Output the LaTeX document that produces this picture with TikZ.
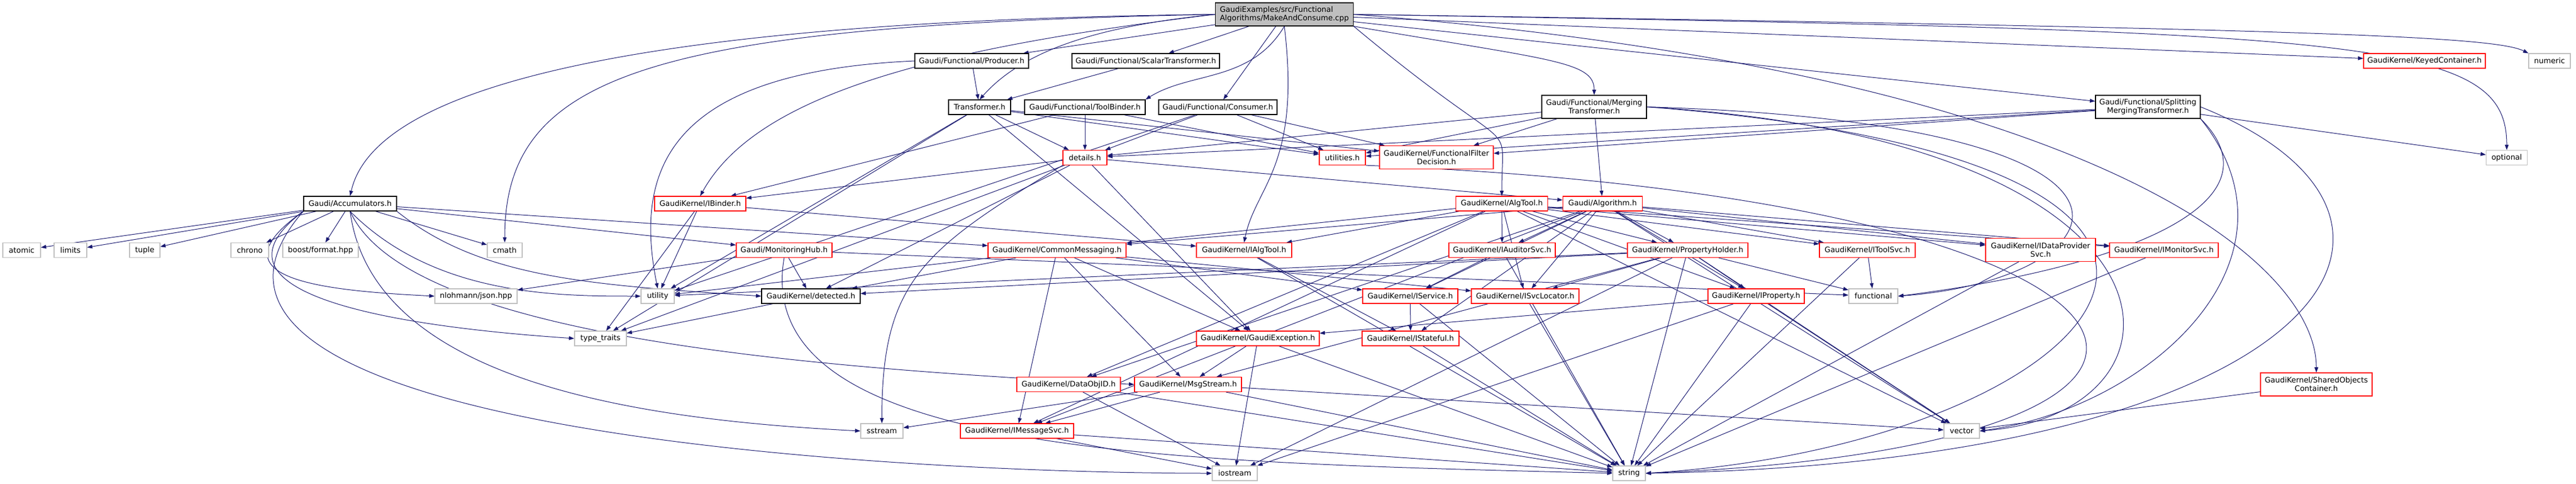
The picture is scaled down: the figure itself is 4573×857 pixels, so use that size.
\documentclass[tikz,border=0pt]{standalone}
\usepackage{fontspec}
\setmainfont{DejaVu Sans}
\usetikzlibrary{arrows.meta,backgrounds}
\definecolor{edgeblue}{HTML}{191970}
\definecolor{sysgray}{HTML}{BFBFBF}

\begin{document}
\begin{tikzpicture}[x=0.75pt,y=-0.75pt,
  every node/.style={font=\fontsize{10}{11.25}\selectfont,inner xsep=2pt,inner ysep=3pt,
    minimum height=19.5pt,fill=white,line width=0.9pt,align=center},
  wd/.style={minimum width=#1*0.75pt},
  tall/.style={minimum height=30.75pt},
  full/.style={draw=black},
  trunc/.style={draw=red},
  sys/.style={draw=sysgray},
  top/.style={draw=black,fill=sysgray,align=left},
  dep/.style={-{Triangle[length=7pt,width=5pt]},edgeblue,line width=0.75pt}]
  \useasboundingbox (0,0) rectangle (4573,857);

  % files
  \node[top,wd=245,tall] (root) at (2280,25.5) {GaudiExamples/src/Functional\\Algorithms/MakeAndConsume.cpp};

  \node[full,wd=202] (producer) at (1725,108) {Gaudi/Functional/Producer.h};
  \node[full,wd=262] (scalar) at (2034,108) {Gaudi/Functional/ScalarTransformer.h};
  \node[trunc,wd=216] (keyed) at (4304,108) {GaudiKernel/KeyedContainer.h};
  \node[sys,wd=74] (numeric) at (4526,108) {numeric};

  \node[full,wd=110] (transformer) at (1739,190) {Transformer.h};
  \node[full,wd=214] (toolbinder) at (1926,190) {Gaudi/Functional/ToolBinder.h};
  \node[full,wd=210] (consumer) at (2162,190) {Gaudi/Functional/Consumer.h};
  \node[full,wd=186,tall] (merging) at (2830,189.5) {Gaudi/Functional/Merging\\Transformer.h};
  \node[full,wd=186,tall] (splitting) at (3813,189.5) {Gaudi/Functional/Splitting\\MergingTransformer.h};

  \node[trunc,wd=78] (details) at (1926,279.5) {details.h};
  \node[trunc,wd=82] (utilities) at (2383,279.5) {utilities.h};
  \node[trunc,wd=202,tall] (ffd) at (2550,279) {GaudiKernel/FunctionalFilter\\Decision.h};
  \node[sys,wd=73] (optional) at (4450,279.5) {optional};

  \node[full,wd=165] (acc) at (621.5,361) {Gaudi/Accumulators.h};
  \node[trunc,wd=162] (ibinder) at (1243,361) {GaudiKernel/IBinder.h};
  \node[trunc,wd=163] (algtool) at (2666,361) {GaudiKernel/AlgTool.h};
  \node[trunc,wd=141] (algorithm) at (2845,361) {Gaudi/Algorithm.h};

  \node[sys,wd=67] (atomic) at (38.5,443.5) {atomic};
  \node[sys,wd=58] (limits) at (125,443.5) {limits};
  \node[sys,wd=54] (tuple) at (257,443.5) {tuple};
  \node[sys,wd=67] (chrono) at (443.5,443.5) {chrono};
  \node[sys,wd=134] (boostfmt) at (569,443.5) {boost/format.hpp};
  \node[sys,wd=62] (cmath) at (896,443.5) {cmath};
  \node[trunc,wd=170] (monhub) at (1392,443.5) {Gaudi/MonitoringHub.h};
  \node[trunc,wd=245] (commsg) at (1876.5,443.5) {GaudiKernel/CommonMessaging.h};
  \node[trunc,wd=169] (ialgtool) at (2208.5,443.5) {GaudiKernel/IAlgTool.h};
  \node[trunc,wd=189] (iauditor) at (2666.5,443.5) {GaudiKernel/IAuditorSvc.h};
  \node[trunc,wd=214] (propholder) at (2996,443.5) {GaudiKernel/PropertyHolder.h};
  \node[trunc,wd=170] (itoolsvc) at (3315,443.5) {GaudiKernel/IToolSvc.h};
  \node[trunc,wd=195,tall] (idataprov) at (3622.5,443) {GaudiKernel/IDataProvider\\Svc.h};
  \node[trunc,wd=193] (imonitor) at (3841.5,443.5) {GaudiKernel/IMonitorSvc.h};

  \node[sys,wd=146] (json) at (845,525) {nlohmann/json.hpp};
  \node[sys,wd=59] (utility) at (1167.5,525) {utility};
  \node[full,wd=175] (detected) at (1439.5,525) {GaudiKernel/detected.h};
  \node[trunc,wd=169] (iservice) at (2503.5,525) {GaudiKernel/IService.h};
  \node[trunc,wd=191] (isvcloc) at (2707.5,525) {GaudiKernel/ISvcLocator.h};
  \node[trunc,wd=171] (iproperty) at (3117.5,525) {GaudiKernel/IProperty.h};
  \node[sys,wd=87] (functional) at (3325.5,525) {functional};

  \node[sys,wd=92] (typetraits) at (1066,600) {type\_traits};
  \node[trunc,wd=218] (gexcept) at (2233,600) {GaudiKernel/GaudiException.h};
  \node[trunc,wd=172] (istateful) at (2504,600) {GaudiKernel/IStateful.h};

  \node[trunc,wd=184] (dataobjid) at (1897,681.5) {GaudiKernel/DataObjID.h};
  \node[trunc,wd=190] (msgstream) at (2109,681.5) {GaudiKernel/MsgStream.h};
  \node[trunc,wd=198,tall] (sharedobj) at (4112,681.5) {GaudiKernel/SharedObjects\\Container.h};

  \node[sys,wd=75] (sstream) at (1565.5,764) {sstream};
  \node[trunc,wd=201] (imsgsvc) at (1805.5,764) {GaudiKernel/IMessageSvc.h};
  \node[sys,wd=63] (vector) at (3482.5,764) {vector};

  \node[sys,wd=80] (iostream) at (2192,839) {iostream};
  \node[sys,wd=58] (string) at (2892,839) {string};

  % includes
  \begin{pgfonlayer}{background}
    \draw[dep] (root.west) .. controls +(-900,10) and +(50,-220) .. (acc.north);
    \draw[dep] (root.west) .. controls +(-1000,20) and +(0,-300) .. (cmath.north);
    \draw[dep] (root.west) .. controls +(-500,60) and +(100,-180) .. (ibinder.north);
    \draw[dep] (root.west) .. controls +(-200,20) and +(80,-90) .. (transformer.north);
    \draw[dep] (root.south) .. controls +(-60,100) and +(80,-50) .. (toolbinder.north east);
    \draw[dep] (root.south) .. controls +(30,250) and +(20,-100) .. (ialgtool.north);
    \draw[dep] (root.south east) .. controls +(300,250) and +(0,-150) .. (algtool.north);
    \draw[dep] (root.south east) .. controls +(350,60) and +(0,-60) .. (merging.north);
    \draw[dep] (root.east) .. controls +(1700,25) and +(-60,-30) .. (numeric.north west);
    \draw[dep] (root.east) .. controls +(1800,30) and +(0,-200) .. (optional.north);
    \draw[dep] (root.east) .. controls +(1300,100) and +(0,-200) .. (sharedobj.north);
    \path[dep] (root) edge (producer) edge (scalar) edge (consumer) edge (splitting) edge (keyed);

    \draw[dep] (acc.south west) .. controls +(-350,400) and +(-500,0) .. (iostream.west);
    \draw[dep] (acc.south) .. controls +(40,300) and +(-400,-20) .. (sstream.west);
    \draw[dep] (acc.south) .. controls +(100,220) and +(-600,-30) .. (msgstream.west);
    \draw[dep] (acc.south west) .. controls +(-200,150) and +(-300,-20) .. (typetraits.west);
    \draw[dep] (acc.south west) .. controls +(-170,120) and +(-200,-10) .. (json.west);
    \draw[dep] (acc.south) .. controls +(150,150) and +(-150,0) .. (utility.west);
    \draw[dep] (acc.south east) .. controls +(150,120) and +(-300,-20) .. (detected.west);
    \path[dep] (acc) edge (atomic) edge (limits) edge (tuple) edge (chrono) edge (boostfmt)
      edge (cmath) edge (monhub) edge (commsg);

    \draw[dep] (producer.west) .. controls +(-450,20) and +(-40,-200) .. (utility.north);
    \path[dep] (producer) edge (transformer);
    \path[dep] (scalar) edge (transformer);
    \path[dep] (transformer) edge (details) edge (utilities) edge (ffd) edge (gexcept)
      edge (utility) edge (typetraits);
    \path[dep] (toolbinder) edge (ibinder) edge (details) edge (utilities);
    \path[dep] (consumer) edge (details) edge (utilities) edge (ffd) edge (utility);

    \draw[dep] (merging.east) .. controls +(1000,30) and +(400,-30) .. (functional.east);
    \draw[dep] (merging.east) .. controls +(1000,60) and +(400,-30) .. (vector.east);
    \draw[dep] (merging.east) .. controls +(1300,100) and +(800,-50) .. (string.east);
    \path[dep] (merging) edge (details) edge (utilities) edge (ffd) edge (algorithm);

    \draw[dep] (splitting.south east) .. controls +(150,150) and +(400,-50) .. (functional.east);
    \draw[dep] (splitting.south east) .. controls +(200,250) and +(300,-40) .. (vector.east);
    \draw[dep] (splitting.east) .. controls +(500,200) and +(1200,-20) .. (string.east);
    \path[dep] (splitting) edge (details) edge (utilities) edge (ffd) edge (optional);

    \draw[dep] (details.south west) .. controls +(-250,150) and +(0,-250) .. (sstream.north);
    \path[dep] (details) edge (ibinder) edge (detected) edge (typetraits) edge (gexcept)
      edge (algorithm);
    \draw[dep] (utilities.south east) .. controls +(1500,60) and +(1200,-50) .. (string.east);
    \path[dep] (ibinder) edge (ialgtool) edge (utility) edge (typetraits);

    \path[dep] (algtool) edge (commsg) edge (ialgtool) edge (iauditor) edge (propholder)
      edge (itoolsvc) edge (idataprov) edge (imonitor) edge (isvcloc) edge (iproperty)
      edge (dataobjid) edge (imsgsvc) edge (vector);
    \path[dep] (algorithm) edge (commsg) edge (iauditor) edge (propholder) edge (itoolsvc)
      edge (idataprov) edge (imonitor) edge (iservice) edge (isvcloc) edge (iproperty)
      edge (istateful) edge (dataobjid) edge (imsgsvc) edge (vector);

    \draw[dep] (monhub.south) .. controls +(-60,350) and +(-800,-20) .. (string.west);
    \path[dep] (monhub) edge (json) edge (detected) edge (functional);
    \path[dep] (commsg) edge (utility) edge (detected) edge (gexcept) edge (msgstream)
      edge (imsgsvc) edge (iservice) edge (isvcloc);
    \path[dep] (ialgtool) edge (istateful) edge (string);
    \path[dep] (iauditor) edge (iservice) edge (string);
    \path[dep] (propholder) edge (utility) edge (detected) edge (iproperty) edge (isvcloc)
      edge (msgstream) edge (functional) edge (vector) edge (iostream) edge (string);
    \path[dep] (itoolsvc) edge (functional) edge (string);
    \path[dep] (idataprov) edge (string);
    \path[dep] (imonitor) edge (string);
    \path[dep] (detected) edge (typetraits);
    \path[dep] (iservice) edge (istateful) edge (string);
    \path[dep] (isvcloc) edge (string);
    \path[dep] (iproperty) edge (gexcept) edge (vector) edge (iostream) edge (string);
    \path[dep] (gexcept) edge (msgstream) edge (iostream) edge (string);
    \path[dep] (istateful) edge (string);
    \path[dep] (dataobjid) edge (iostream) edge (string);
    \path[dep] (msgstream) edge (imsgsvc) edge (sstream) edge (vector) edge (string);
    \path[dep] (sharedobj) edge (vector);
    \path[dep] (imsgsvc) edge (iostream) edge (string);
  \end{pgfonlayer}
\end{tikzpicture}
\end{document}
